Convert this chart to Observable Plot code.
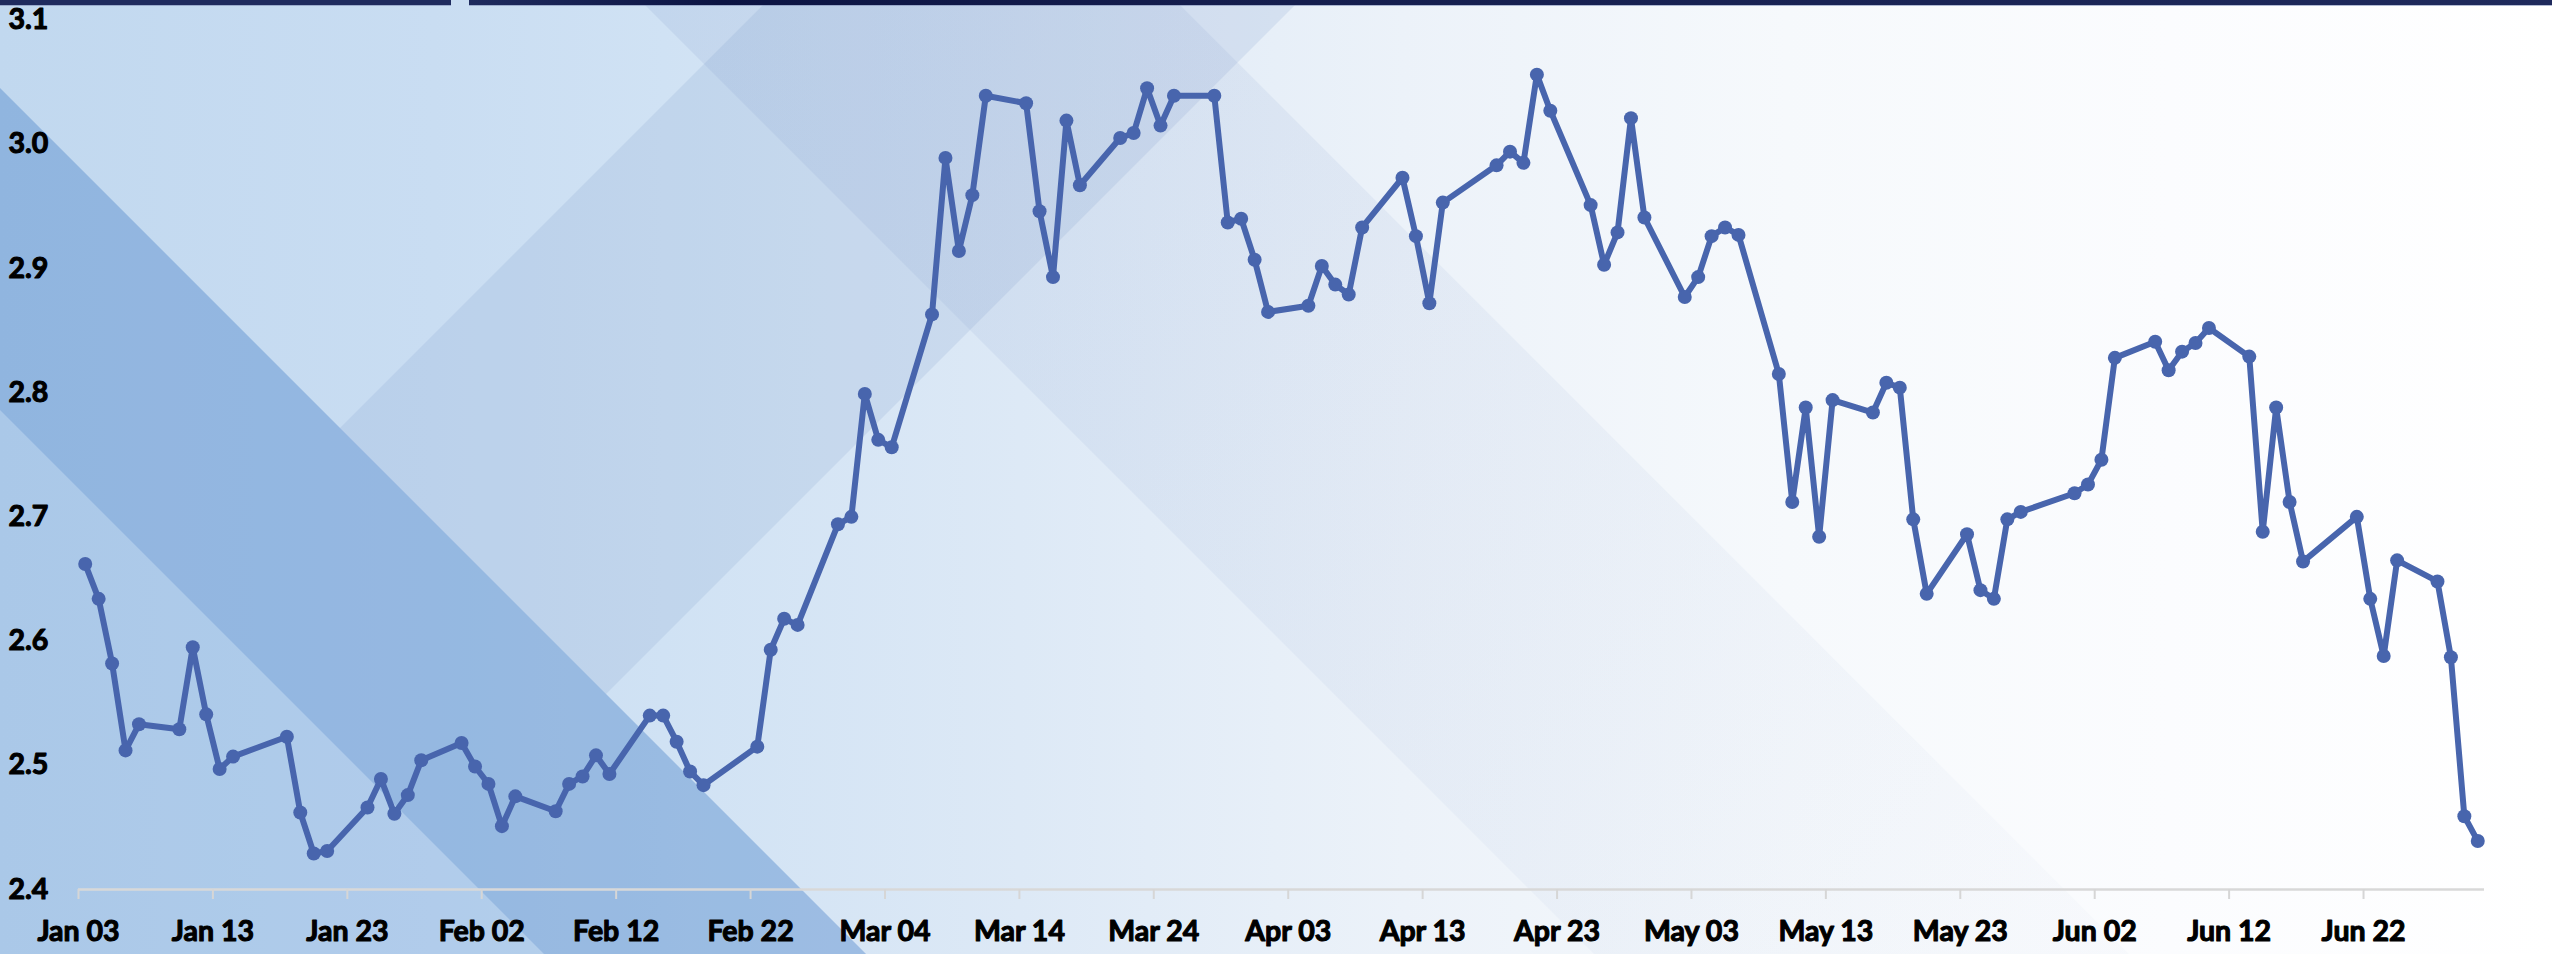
<!DOCTYPE html>
<html>
<head>
<meta charset="utf-8">
<script src="https://cdn.jsdelivr.net/npm/d3@7"></script>
<script src="https://cdn.jsdelivr.net/npm/@observablehq/plot@0.6"></script>
<style>
  html, body { margin: 0; padding: 0; background: #ffffff; }
  #wrap { position: relative; width: 2552px; height: 954px; overflow: hidden; }
  #bg { position: absolute; left: 0; top: 0; }
  #chart { position: absolute; left: 0; top: 0; }
  #chart svg text { paint-order: stroke; stroke: #000; stroke-width: 1.1px; stroke-linejoin: round; }
</style>
</head>
<body>
<div id="wrap">
  <svg id="bg" width="2552" height="954" xmlns="http://www.w3.org/2000/svg">
    <defs>
      <linearGradient id="base" x1="0" x2="1" y1="0" y2="0">
        <stop offset="0" stop-color="#c1d8ef"/>
        <stop offset="0.17" stop-color="#c9ddf2"/>
        <stop offset="0.26" stop-color="#d0e2f4"/>
        <stop offset="0.40" stop-color="#dde9f6"/>
        <stop offset="0.55" stop-color="#ecf2f9"/>
        <stop offset="0.70" stop-color="#f6f9fc"/>
        <stop offset="0.85" stop-color="#fbfcfe"/>
        <stop offset="1" stop-color="#ffffff"/>
      </linearGradient>
      <linearGradient id="navy" x1="0" x2="1" y1="0" y2="0">
        <stop offset="0" stop-color="#1f2b5e"/>
        <stop offset="0.12" stop-color="#0c1443"/>
        <stop offset="0.35" stop-color="#141d4d"/>
        <stop offset="1" stop-color="#1f2a5c"/>
      </linearGradient>
      <linearGradient id="descFade" gradientUnits="userSpaceOnUse" x1="700" y1="0" x2="2000" y2="954">
        <stop offset="0" stop-color="#7d97c9" stop-opacity="0.16"/>
        <stop offset="0.5" stop-color="#7d97c9" stop-opacity="0.09"/>
        <stop offset="1" stop-color="#7d97c9" stop-opacity="0.03"/>
      </linearGradient>
    </defs>
    <rect width="2552" height="954" fill="url(#base)"/>
    <!-- rising band, clipped at the dark band -->
    <polygon points="768,0 1300,0 606,694 340,428" fill="#6b8cc4" fill-opacity="0.15"/>
    <!-- descending band (fades towards the lower right) -->
    <polygon points="640,0 1175,0 2129,954 1594,954" fill="url(#descFade)"/>
    <!-- area below the dark band edge -->
    <polygon points="0,88 866,954 0,954" fill="#5b93d3" fill-opacity="0.22"/>
    <!-- dark band -->
    <polygon points="0,88 866,954 544,954 0,410" fill="#4f86c9" fill-opacity="0.28"/>
    <!-- top navy bars -->
    <rect x="0" y="0" width="451" height="5" fill="#1f2b5e"/>
    <rect x="469" y="0" width="2083" height="5" fill="url(#navy)"/>
    <rect x="0" y="5" width="451" height="1" fill="#7f8db5" fill-opacity="0.6"/>
    <rect x="469" y="5" width="2083" height="1" fill="#7f8db5" fill-opacity="0.6"/>
  </svg>
  <div id="chart"></div>
</div>
<script>
// ---- data (2022, US trading days) ----
const dates = [
  "2022-01-03","2022-01-04","2022-01-05","2022-01-06","2022-01-07","2022-01-10","2022-01-11","2022-01-12","2022-01-13","2022-01-14",
  "2022-01-18","2022-01-19","2022-01-20","2022-01-21","2022-01-24","2022-01-25","2022-01-26","2022-01-27","2022-01-28","2022-01-31",
  "2022-02-01","2022-02-02","2022-02-03","2022-02-04","2022-02-07","2022-02-08","2022-02-09","2022-02-10","2022-02-11","2022-02-14",
  "2022-02-15","2022-02-16","2022-02-17","2022-02-18","2022-02-22","2022-02-23","2022-02-24","2022-02-25","2022-02-28",
  "2022-03-01","2022-03-02","2022-03-03","2022-03-04","2022-03-07","2022-03-08","2022-03-09","2022-03-10","2022-03-11","2022-03-14",
  "2022-03-15","2022-03-16","2022-03-17","2022-03-18","2022-03-21","2022-03-22","2022-03-23","2022-03-24","2022-03-25","2022-03-28",
  "2022-03-29","2022-03-30","2022-03-31",
  "2022-04-01","2022-04-04","2022-04-05","2022-04-06","2022-04-07","2022-04-08","2022-04-11","2022-04-12","2022-04-13","2022-04-14",
  "2022-04-18","2022-04-19","2022-04-20","2022-04-21","2022-04-22","2022-04-25","2022-04-26","2022-04-27","2022-04-28","2022-04-29",
  "2022-05-02","2022-05-03","2022-05-04","2022-05-05","2022-05-06","2022-05-09","2022-05-10","2022-05-11","2022-05-12","2022-05-13",
  "2022-05-16","2022-05-17","2022-05-18","2022-05-19","2022-05-20","2022-05-23","2022-05-24","2022-05-25","2022-05-26","2022-05-27",
  "2022-05-31",
  "2022-06-01","2022-06-02","2022-06-03","2022-06-06","2022-06-07","2022-06-08","2022-06-09","2022-06-10","2022-06-13","2022-06-14",
  "2022-06-15","2022-06-16","2022-06-17","2022-06-21","2022-06-22","2022-06-23","2022-06-24","2022-06-27","2022-06-28","2022-06-29",
  "2022-06-30"
];
const values = [
  2.662, 2.634, 2.582, 2.512, 2.533, 2.529, 2.595, 2.541, 2.497, 2.507,
  2.523, 2.462, 2.429, 2.431, 2.466, 2.489, 2.461, 2.476, 2.504, 2.518,
  2.499, 2.485, 2.451, 2.475, 2.463, 2.485, 2.491, 2.508, 2.493, 2.540,
  2.540, 2.519, 2.495, 2.484, 2.515, 2.593, 2.618, 2.613, 2.694,
  2.700, 2.799, 2.762, 2.756, 2.863, 2.989, 2.914, 2.959, 3.039, 3.033,
  2.946, 2.893, 3.019, 2.967, 3.005, 3.009, 3.045, 3.015, 3.039, 3.039,
  2.937, 2.940, 2.907,
  2.865, 2.870, 2.902, 2.887, 2.879, 2.933, 2.973, 2.926, 2.872, 2.953,
  2.983, 2.994, 2.985, 3.056, 3.027, 2.951, 2.903, 2.929, 3.021, 2.941,
  2.877, 2.893, 2.926, 2.933, 2.927, 2.815, 2.712, 2.788, 2.684, 2.794,
  2.784, 2.808, 2.804, 2.698, 2.638, 2.686, 2.641, 2.634, 2.698, 2.704,
  2.719,
  2.726, 2.746, 2.828, 2.841, 2.818, 2.833, 2.840, 2.852, 2.829, 2.688,
  2.788, 2.712, 2.664, 2.700, 2.634, 2.588, 2.665, 2.648, 2.587, 2.459,
  2.439
];
const xTickDates = [
  "2022-01-03","2022-01-13","2022-01-23","2022-02-02","2022-02-12","2022-02-22",
  "2022-03-04","2022-03-14","2022-03-24","2022-04-03","2022-04-13","2022-04-23",
  "2022-05-03","2022-05-13","2022-05-23","2022-06-02","2022-06-12","2022-06-22"
];
const yTicks = [2.4, 2.5, 2.6, 2.7, 2.8, 2.9, 3.0, 3.1];
const xDomain = ["2022-01-03", "2022-07-01"];

// Points sit in the middle of each day's slot (date axis "between tick marks")
const HALF_DAY = 12 * 3600 * 1000;
const rows = dates.map((d, i) => ({date: new Date(Date.parse(d) + HALF_DAY), value: values[i]}));

const lineColor = "#4865ad";

const chart = Plot.plot({
  width: 2552,
  height: 954,
  marginLeft: 78,
  marginRight: 68,
  marginTop: 19.5,
  marginBottom: 65,
  style: {
    background: "transparent",
    fontFamily: "Lato, 'Liberation Sans', sans-serif",
    fontSize: "28.5px",
    fontWeight: "bold",
    color: "#000",
    overflow: "visible"
  },
  x: {type: "utc", domain: xDomain.map(d => new Date(d))},
  y: {domain: [2.4, 3.1]},
  marks: [
    Plot.ruleY([2.4], {stroke: "#d8d8d8", strokeWidth: 2.5}),
    Plot.axisX({
      ticks: xTickDates.map(d => new Date(d)),
      tickFormat: d3.utcFormat("%b %d"),
      tickSize: 10,
      tickPadding: 21,
      stroke: "#d6d6d6",
      strokeWidth: 2,
      fill: "#000",
      label: null
    }),
    Plot.axisY({
      ticks: yTicks,
      tickFormat: d => d.toFixed(1),
      tickSize: 0,
      tickPadding: 0,
      textAnchor: "start",
      dx: -70,
      fill: "#000",
      label: null
    }),
    Plot.line(rows, {x: "date", y: "value", stroke: lineColor, strokeWidth: 6, strokeLinejoin: "round", strokeLinecap: "round"}),
    Plot.dot(rows, {x: "date", y: "value", r: 7, fill: lineColor, stroke: "none"})
  ]
});
document.getElementById("chart").appendChild(chart);
</script>
</body>
</html>
